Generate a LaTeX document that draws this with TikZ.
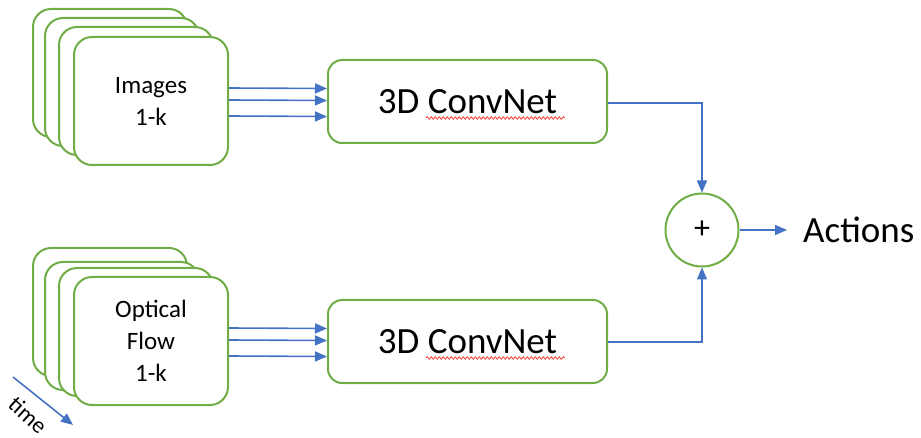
\documentclass[tikz,border=0pt]{standalone}
\usepackage{fontspec}
\setmainfont{Carlito}
\usetikzlibrary{arrows.meta,calc,decorations.pathmorphing}
\definecolor{grn}{HTML}{70AD47}
\definecolor{blu}{HTML}{4472C4}
\begin{document}
\begin{tikzpicture}[x=1pt,y=-1pt,
 card/.style={draw=grn,line width=2pt,fill=white,rounded corners=18pt,minimum width=154pt,minimum height=128pt,inner sep=0pt,font=\fontsize{25}{32}\selectfont,align=center},
 netbox/.style={draw=grn,line width=2pt,fill=white,rounded corners=14pt,minimum width=279pt,minimum height=83pt,inner sep=0pt,font=\fontsize{37}{44}\selectfont},
 arr/.style={draw=blu,line width=1.6pt,-{Triangle[length=12pt,width=10pt]}},
 spell/.style={draw=red!75,line width=0.8pt,decorate,decoration={snake,amplitude=1.3pt,segment length=4pt}},
]
\useasboundingbox (0,0) rectangle (921,438);
% top stack
\node[card] (img1) at (110,73) {};
\node[card] (img2) at (122,82) {};
\node[card] (img3) at (136,91) {};
\node[card] (img4) at (151,101) {Images\\1-k};
% bottom stack
\node[card] (of1) at (110,312) {};
\node[card] (of2) at (122,326) {};
\node[card] (of3) at (136,332) {};
\node[card] (of4) at (151,341) {Optical\\Flow\\1-k};
% convnets
\node[netbox] (conv1) at (467.5,101.5) {3D ConvNet};
\node[netbox] (conv2) at (467.5,341.5) {3D ConvNet};
\draw[spell] ($(conv1.center)+(-41.5,16.5)$) -- ($(conv1.center)+(97.5,16.5)$);
\draw[spell] ($(conv2.center)+(-41.5,16.5)$) -- ($(conv2.center)+(97.5,16.5)$);
% sum
\node[draw=grn,line width=2pt,circle,minimum size=73pt,inner sep=0pt,font=\fontsize{32}{36}\selectfont] (sum) at (702,230) {+};
\node[anchor=west,inner sep=0pt,font=\fontsize{37}{44}\selectfont] (act) at (803,230) {Actions};
% arrows
\foreach \d in {-13,-1,15}{
  \draw[arr] ($(img4.east)+(0,\d)$) -- ($(conv1.west)+(0,\d)$);
  \draw[arr] ($(of4.east)+(0,\d)$) -- ($(conv2.west)+(0,\d)$);
}
\draw[arr] ($(conv1.east)+(0,1.5)$) -| (sum.north);
\draw[arr] ($(conv2.east)+(0,0.5)$) -| (sum.south);
\draw[arr] (sum.east) -- ($(act.west)+(-16,0)$);
% time
\coordinate (t1) at (13,377);
\coordinate (t2) at (73,425);
\draw[arr] (t1) -- (t2);
\node[rotate=-42,font=\fontsize{23}{28}\selectfont,inner sep=0pt] (time) at (28,415) {time};
\end{tikzpicture}
\end{document}
